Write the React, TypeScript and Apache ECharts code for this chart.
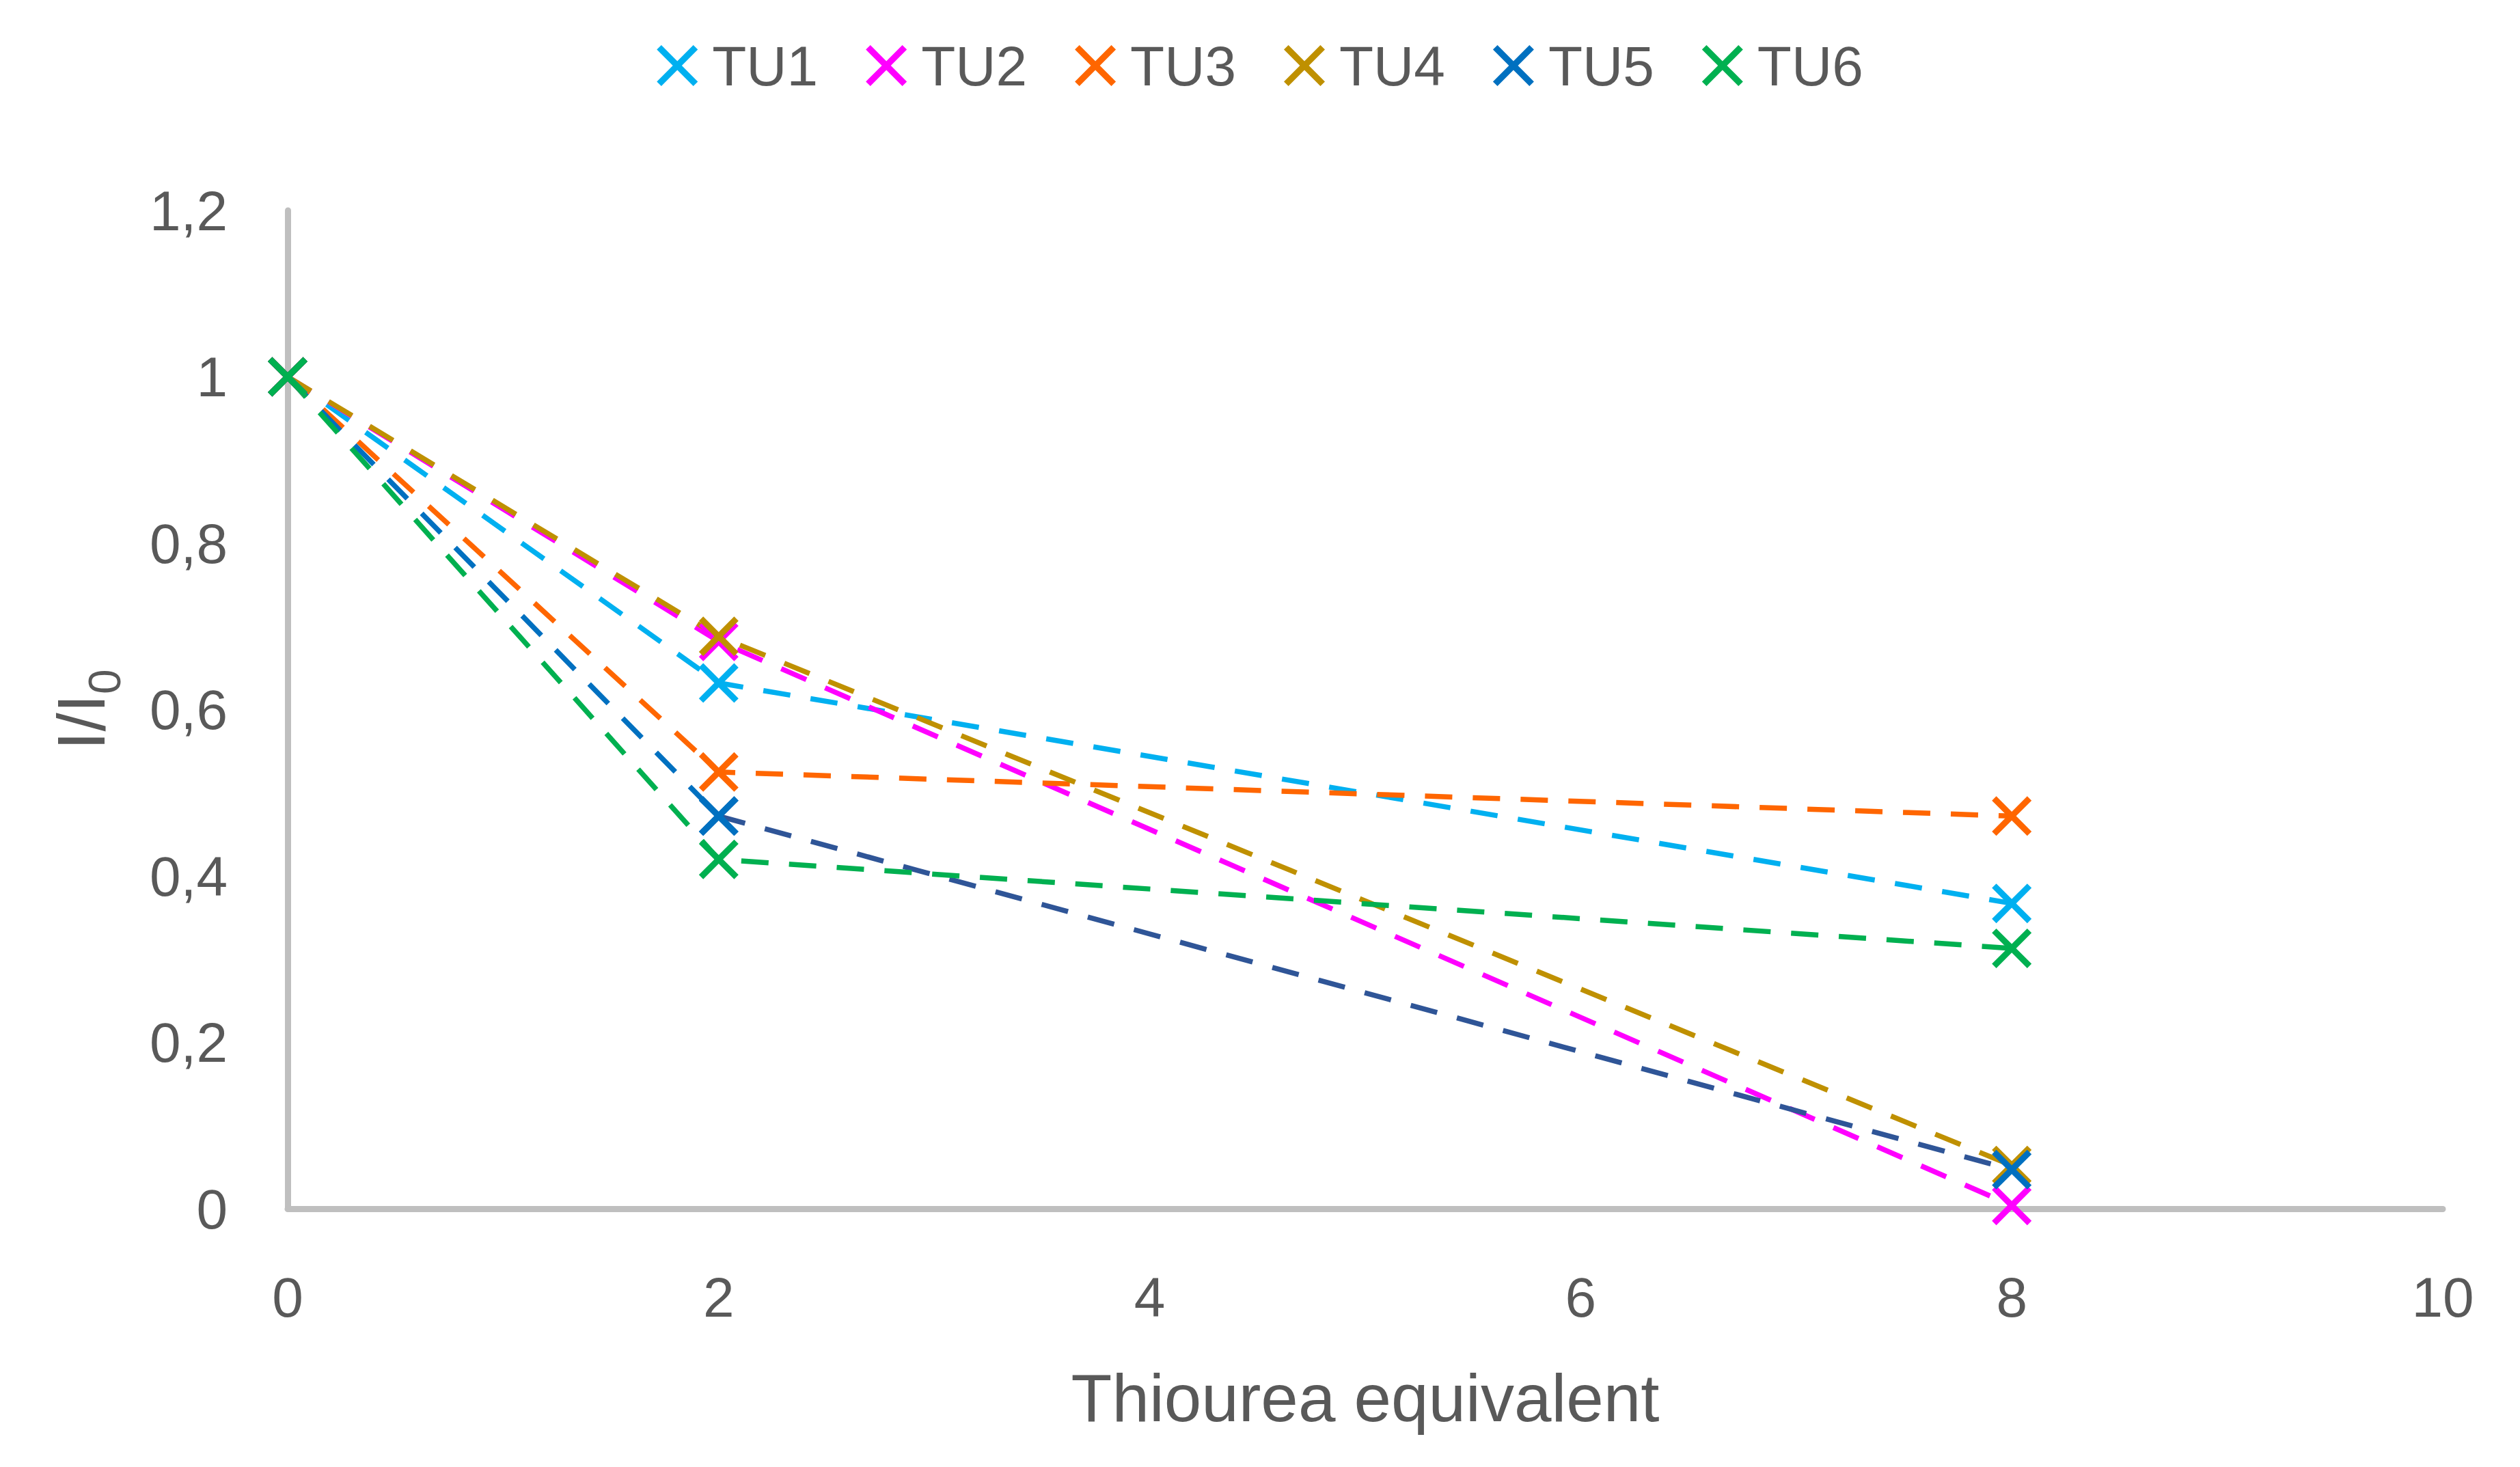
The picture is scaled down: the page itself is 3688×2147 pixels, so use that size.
import React, { useEffect, useRef } from "react";
import * as echarts from "echarts";

const xValues = [0, 2, 8];
const seriesNames = ["TU1", "TU2", "TU3", "TU4", "TU5", "TU6"];
const tu1 = [1, 0.632, 0.367];
const tu2 = [1, 0.682, 0.004];
const tu3 = [1, 0.525, 0.472];
const tu4 = [1, 0.688, 0.052];
const tu5 = [1, 0.472, 0.047];
const tu6 = [1, 0.42, 0.313];
const seriesValues = [tu1, tu2, tu3, tu4, tu5, tu6];
const markerColors = ["#00B0F0", "#FF00FF", "#FF6600", "#BF9000", "#0070C0", "#00B050"];
const lineColors = ["#00B0F0", "#FF00FF", "#FF6600", "#BF9000", "#0070C0", "#00B050"];
const tu5LateLineColor = "#2F5597";

const xSymbol =
  "path://M0,11 L11,0 L50,39 L89,0 L100,11 L61,50 L100,89 L89,100 L50,61 L11,100 L0,89 L39,50 Z";

const FONT = "Liberation Sans";
const TEXT = "#595959";
const AXIS = "#BFBFBF";

export default function App() {
  const ref = useRef<HTMLDivElement>(null);
  useEffect(() => {
    document.body.style.margin = "0";
    if (!ref.current) return;
    const chart = echarts.init(ref.current, undefined, { renderer: "svg" });

    const mkSeries = (i: number, from: number, to: number, lineColor: string) => ({
      name: seriesNames[i],
      type: "line",
      data: xValues.slice(from, to).map((x, k) => [x, seriesValues[i][from + k]]),
      symbol: xSymbol,
      symbolSize: 58,
      symbolKeepAspect: true,
      itemStyle: { color: markerColors[i] },
      lineStyle: { color: lineColor, width: 7.5, type: [40, 30] },
      emphasis: { disabled: true },
    });

    const series: any[] = [];
    for (let i = 0; i < seriesNames.length; i++) {
      if (i === 4) {
        series.push(mkSeries(i, 0, 2, lineColors[i]));
        series.push(mkSeries(i, 1, 3, tu5LateLineColor));
      } else {
        series.push(mkSeries(i, 0, 3, lineColors[i]));
      }
    }

    chart.setOption({
      animation: false,
      textStyle: { fontFamily: FONT },
      legend: {
        data: seriesNames,
        top: 50,
        left: "center",
        icon: xSymbol,
        itemWidth: 60,
        itemHeight: 60,
        itemGap: 70,
        textStyle: { fontSize: 82, color: TEXT, fontFamily: FONT, padding: [0, 0, 0, 16] },
      },
      grid: { left: 421, right: 113, top: 308, bottom: 378, containLabel: false },
      xAxis: {
        type: "value",
        min: 0,
        max: 10,
        interval: 2,
        name: "Thiourea equivalent",
        nameLocation: "middle",
        nameGap: 228,
        nameTextStyle: { fontSize: 98, color: TEXT, fontFamily: FONT },
        axisLine: { show: true, lineStyle: { color: AXIS, width: 9 } },
        axisTick: { show: false },
        splitLine: { show: false },
        axisLabel: { fontSize: 82, color: TEXT, margin: 88, fontFamily: FONT },
      },
      yAxis: {
        type: "value",
        min: 0,
        max: 1.2,
        interval: 0.2,
        name: "{a|I/I}{b|0}",
        nameLocation: "middle",
        nameRotate: 90,
        nameGap: 235,
        nameTextStyle: {
          color: TEXT,
          fontFamily: FONT,
          rich: {
            a: { fontSize: 98, color: TEXT, fontFamily: FONT, padding: [0, 0, 18, 0] },
            b: { fontSize: 66, color: TEXT, fontFamily: FONT, verticalAlign: "bottom" },
          },
        },
        axisLine: { show: true, lineStyle: { color: AXIS, width: 9 } },
        axisTick: { show: false },
        splitLine: { show: false },
        axisLabel: {
          fontSize: 82,
          color: TEXT,
          margin: 88,
          fontFamily: FONT,
          formatter: (v: number) => String(Math.round(v * 10) / 10).replace(".", ","),
        },
      },
      series,
    });
    return () => chart.dispose();
  }, []);
  return <div ref={ref} style={{ width: 3688, height: 2147 }} />;
}
